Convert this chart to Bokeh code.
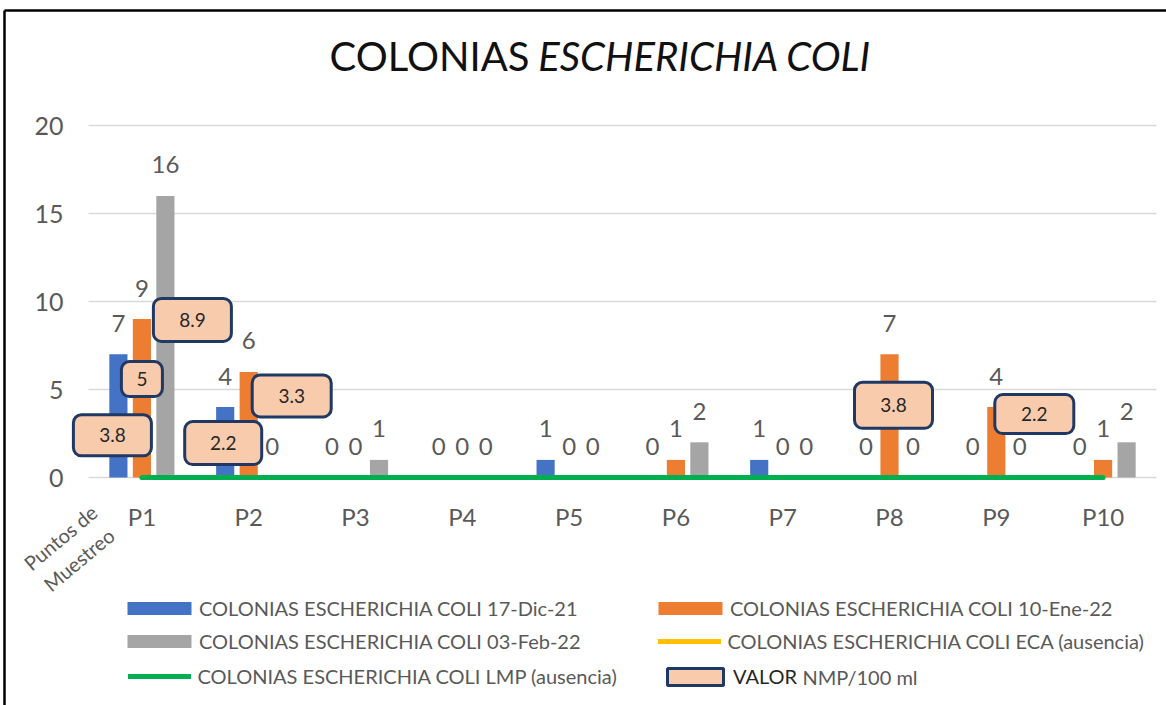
from bokeh.plotting import figure
from bokeh.models import (Range1d, FixedTicker, Label, Legend, LegendItem, Arrow,
                          ColumnDataSource)
from bokeh.transform import dodge
from bokeh.embed import file_html
from bokeh.resources import INLINE
from bokeh.core.properties import value

# ---- data -------------------------------------------------------------
puntos = ["P1", "P2", "P3", "P4", "P5", "P6", "P7", "P8", "P9", "P10"]
colonias_17_dic_21 = [7, 4, 0, 0, 1, 0, 1, 0, 0, 0]
colonias_10_ene_22 = [9, 6, 0, 0, 0, 1, 0, 7, 4, 1]
colonias_03_feb_22 = [16, 0, 1, 0, 0, 2, 0, 0, 0, 2]
eca_ausencia = [0, 0, 0, 0, 0, 0, 0, 0, 0, 0]
lmp_ausencia = [0, 0, 0, 0, 0, 0, 0, 0, 0, 0]
y_ticks = [0, 5, 10, 15, 20]

# NMP/100 ml values, attached to a sampling point and a campaign
nmp_punto = ["P1", "P1", "P1", "P2", "P2", "P8", "P9"]
nmp_campana = ["dic", "ene", "feb", "dic", "ene", "ene", "ene"]
nmp_valor = [3.8, 5, 8.9, 2.2, 3.3, 3.8, 2.2]

serie_nombres = {
    "dic": "COLONIAS ESCHERICHIA COLI 17-Dic-21",
    "ene": "COLONIAS ESCHERICHIA COLI 10-Ene-22",
    "feb": "COLONIAS ESCHERICHIA COLI 03-Feb-22",
}

# ---- layout / style ---------------------------------------------------
W, H = 1166, 705
PLOT_L, PLOT_R, PLOT_T, PLOT_B = 88, 1156, 125, 477
Y_MAX = 20
N = len(puntos)
CW = (PLOT_R - PLOT_L) / N          # pixels per category
PY = (PLOT_B - PLOT_T) / Y_MAX      # pixels per unit on the value axis

FONT = "Lato"
GREY_TEXT = "#595959"
COLORS = {"dic": "#4472C4", "ene": "#ED7D31", "feb": "#A5A5A5"}
OFFSETS = {"dic": -0.22, "ene": 0.0, "feb": 0.22}
BAR_W = 0.17
ECA_COLOR = "#FFC000"
LMP_COLOR = "#00B050"
BOX_FILL = "#F8CBAD"
BOX_LINE = "#203864"
BOX_LW = 3

# callout placement (pixels from the top of its bar) and outer box size
box_dx = [-6, 0, 27, -2, 43, 4, 38]
box_dy = [81, 60, 124, 36, 24, 51, 7]
box_w = [81, 44, 81, 80, 82, 81, 82]
box_h = [44, 38, 46, 46, 45, 49, 42]


def sx(px):
    """canvas pixel column -> x data coordinate (category k sits at x=k)"""
    return 0.5 + (px - PLOT_L) / CW


def sy(py):
    """canvas pixel row -> y data coordinate"""
    return (PLOT_B - py) / PY


p = figure(width=W, height=H,
           x_range=Range1d(sx(0), sx(W)), y_range=Range1d(sy(H), sy(0)),
           output_backend="svg", toolbar_location=None,
           min_border_left=0, min_border_right=0, min_border_top=0, min_border_bottom=0,
           background_fill_color="white", border_fill_color="white")
p.outline_line_color = None

# axes drawn at the edges of the plotting area
p.xaxis.fixed_location = 0
p.yaxis.fixed_location = 0.5
p.xaxis.ticker = FixedTicker(ticks=list(range(1, N + 1)))
p.xaxis.major_label_overrides = {i + 1: name for i, name in enumerate(puntos)}
p.yaxis.ticker = FixedTicker(ticks=y_ticks)
p.ygrid.ticker = FixedTicker(ticks=y_ticks)
p.ygrid.cross_bounds = (0.5, N + 0.5)
p.ygrid.grid_line_color = "#D9D9D9"
p.ygrid.grid_line_width = 1.5
p.xgrid.grid_line_color = None
for ax in (p.xaxis[0], p.yaxis[0]):
    ax.axis_line_color = None
    ax.major_tick_line_color = None
    ax.minor_tick_line_color = None
    ax.major_label_text_font = FONT
    ax.major_label_text_color = GREY_TEXT
p.yaxis.major_label_text_font_size = "25px"
p.yaxis.major_label_standoff = 19
p.xaxis.major_label_text_font_size = "24px"
p.xaxis.major_label_standoff = 18

src = ColumnDataSource(dict(
    pos=list(range(1, N + 1)),
    dic=colonias_17_dic_21, ene=colonias_10_ene_22, feb=colonias_03_feb_22,
    dic_lbl=[str(v) for v in colonias_17_dic_21],
    ene_lbl=[str(v) for v in colonias_10_ene_22],
    feb_lbl=[str(v) for v in colonias_03_feb_22],
    eca=eca_ausencia, lmp=lmp_ausencia,
))

bars = {}
for key in ("dic", "ene", "feb"):
    xpos = dodge("pos", OFFSETS[key])
    bars[key] = p.vbar(x=xpos, top=key, width=BAR_W, source=src,
                       fill_color=COLORS[key], line_color=None)
    p.text(x=xpos, y=key, text=key + "_lbl", source=src,
           text_font=value(FONT), text_font_size="24px", text_color=GREY_TEXT,
           text_align="center", text_baseline="middle", y_offset=-31)

eca_line = p.line(x="pos", y="eca", source=src, line_color=ECA_COLOR,
                  line_width=5, line_cap="round")
lmp_line = p.line(x="pos", y="lmp", source=src, line_color=LMP_COLOR,
                  line_width=5, line_cap="round")

# NMP/100 ml callouts: rounded boxes anchored on the top of their bar
serie_valores = {"dic": colonias_17_dic_21, "ene": colonias_10_ene_22, "feb": colonias_03_feb_22}
cx, cy, bl, br, bt, bb, btxt = [], [], [], [], [], [], []
for i, (pt, camp, v) in enumerate(zip(nmp_punto, nmp_campana, nmp_valor)):
    idx = puntos.index(pt)
    xa = idx + 1 + OFFSETS[camp]
    ya = serie_valores[camp][idx]
    xc = xa + box_dx[i] / CW
    yc = ya - box_dy[i] / PY
    hw = (box_w[i] - BOX_LW) / 2 / CW
    hh = (box_h[i] - BOX_LW) / 2 / PY
    cx.append(xc)
    cy.append(yc)
    bl.append(xc - hw)
    br.append(xc + hw)
    bt.append(yc + hh)
    bb.append(yc - hh)
    btxt.append(f"{v:g}")
valor_src = ColumnDataSource(dict(x=cx, y=cy, left=bl, right=br, top=bt, bottom=bb, txt=btxt))
valor_boxes = p.quad(left="left", right="right", top="top", bottom="bottom", source=valor_src,
                     fill_color=BOX_FILL, line_color=BOX_LINE, line_width=BOX_LW,
                     border_radius=8)
p.text(x="x", y="y", text="txt", source=valor_src, text_font=value(FONT),
       text_font_size="19px", text_color="#262626", text_align="center",
       text_baseline="middle")

# title
TITLE_SIZE = "40px"
p.add_layout(Label(x=sx(329), y=sy(55), text="COLONIAS", text_align="left",
                   text_baseline="middle", text_font=FONT, text_font_size=TITLE_SIZE,
                   text_color="#111111"))
p.add_layout(Label(x=sx(871), y=sy(55), text="ESCHERICHIA COLI", text_align="right",
                   text_baseline="middle", text_font=FONT, text_font_size=TITLE_SIZE,
                   text_font_style="italic", text_color="#111111"))

# category axis caption
p.add_layout(Label(x=sx(69), y=sy(548), text="Puntos de\nMuestreo", angle=40,
                   angle_units="deg", text_align="center", text_baseline="middle",
                   text_font=FONT, text_font_size="20px", text_color=GREY_TEXT))

ITEM_H = 24


def add_legend(renderer, label, left, row_mid, glyph_w, glyph_h, standoff, color=GREY_TEXT):
    leg = Legend(items=[LegendItem(label=label, renderers=[renderer])],
                 location=(left, H - (row_mid + ITEM_H / 2)),
                 orientation="vertical", padding=0, margin=0, spacing=0,
                 glyph_width=glyph_w, glyph_height=glyph_h, label_standoff=standoff,
                 label_height=ITEM_H, label_text_font=FONT, label_text_font_size="20px",
                 label_text_color=color, border_line_color=None,
                 background_fill_alpha=0)
    p.add_layout(leg)


add_legend(bars["dic"], serie_nombres["dic"], 119, 607.5, 80, 16, 0)
add_legend(bars["feb"], serie_nombres["feb"], 119, 641, 80, 16, 0)
add_legend(lmp_line, "COLONIAS ESCHERICHIA COLI LMP (ausencia)", 127.5, 676, 63, ITEM_H, 7)
add_legend(bars["ene"], serie_nombres["ene"], 650, 607.5, 80, 16, 0)
add_legend(eca_line, "COLONIAS ESCHERICHIA COLI ECA (ausencia)", 657.5, 641, 63, ITEM_H, 7)
add_legend(valor_boxes, "VALOR", 660, 676, 70, 21, 3, color="#262626")
p.add_layout(Label(x=sx(802), y=sy(676), text="NMP/100 ml", text_align="left",
                   text_baseline="middle", text_font=FONT, text_font_size="20px",
                   text_color=GREY_TEXT))

# frame lines around the chart (top and left edges)
for x0, y0, x1, y1 in ((4, 10, W + 10, 10), (4, 10, 4, H + 10)):
    p.add_layout(Arrow(end=None, x_start=sx(x0), y_start=sy(y0), x_end=sx(x1), y_end=sy(y1),
                       line_color="black", line_width=2.5))

open("out.html", "w").write(file_html(p, INLINE))
